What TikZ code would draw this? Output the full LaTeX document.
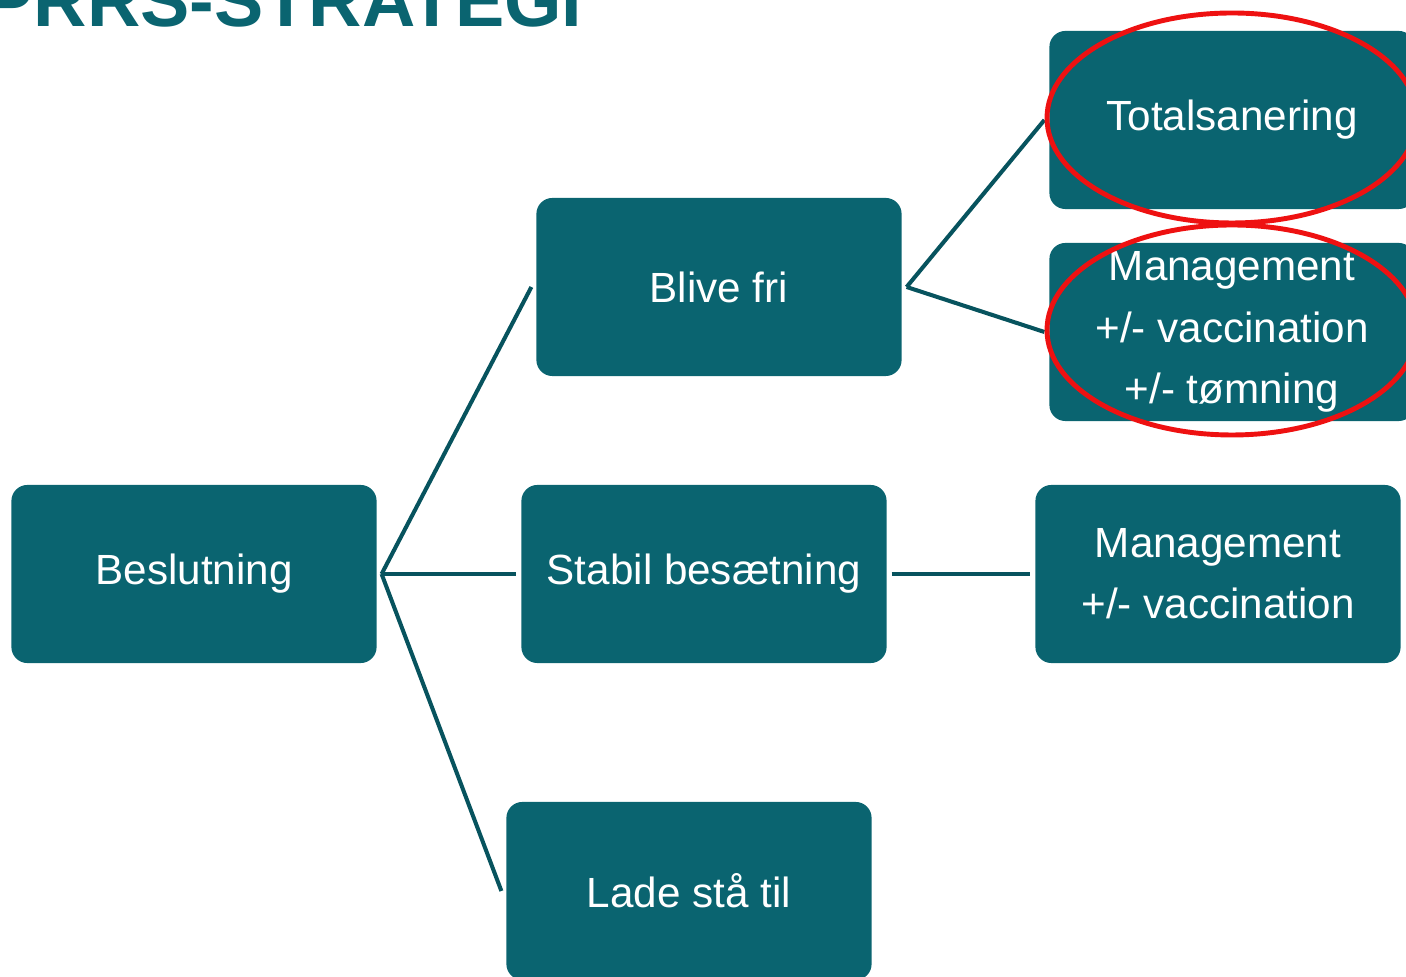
\documentclass[tikz,border=0pt]{standalone}
\usepackage{fontspec}
\setmainfont{Liberation Sans}
\usepackage{tikz}
\usetikzlibrary{positioning,calc}

\definecolor{boxteal}{HTML}{0A6470}
\definecolor{lineteal}{HTML}{07535E}
\definecolor{ringred}{HTML}{EE1111}

\begin{document}
\begin{tikzpicture}[x=0.01cm,y=-0.01cm,
  box/.style={rectangle,rounded corners=0.16cm,fill=boxteal,text=white,
    minimum width=3.65cm,minimum height=1.78cm,inner sep=0pt,outer sep=0.05cm,
    align=center,font=\fontsize{12}{17.4}\selectfont},
  link/.style={draw=lineteal,line width=1.15pt},
  ring/.style={draw=ringred,line width=1.4pt}]
  \useasboundingbox (0,0) rectangle (1406,977);

  \node[anchor=base west,text=boxteal,inner sep=0pt,
    font=\fontsize{21}{25}\selectfont\bfseries] (titel) at (-16,27) {PRRS-STRATEGI};

  \node[box] (besl) at (194,574) {Beslutning};
  \node[box] (fri) at (719,287) {Blive fri};
  \node[box] (stabil) at (704,574) {Stabil besætning};
  \node[box] (lade) at (689,891) {Lade stå til};
  \node[box] (total) at (1232,120) {Totalsanering};
  \node[box] (mgmtA) at (1232,332) {Management\\+/- vaccination\\+/- tømning};
  \node[box] (mgmtB) at (1218,574) {Management\\+/- vaccination};

  \foreach \a/\b in {besl/fri,besl/stabil,besl/lade,fri/total,fri/mgmtA,stabil/mgmtB} {
    \draw[link] (\a.east) -- (\b.west);
  }

  % red rings round the chosen strategies
  \draw[ring] (1232,118) ellipse [x radius=185,y radius=105];
  \draw[ring] (1232,330) ellipse [x radius=185,y radius=105];
\end{tikzpicture}
\end{document}
